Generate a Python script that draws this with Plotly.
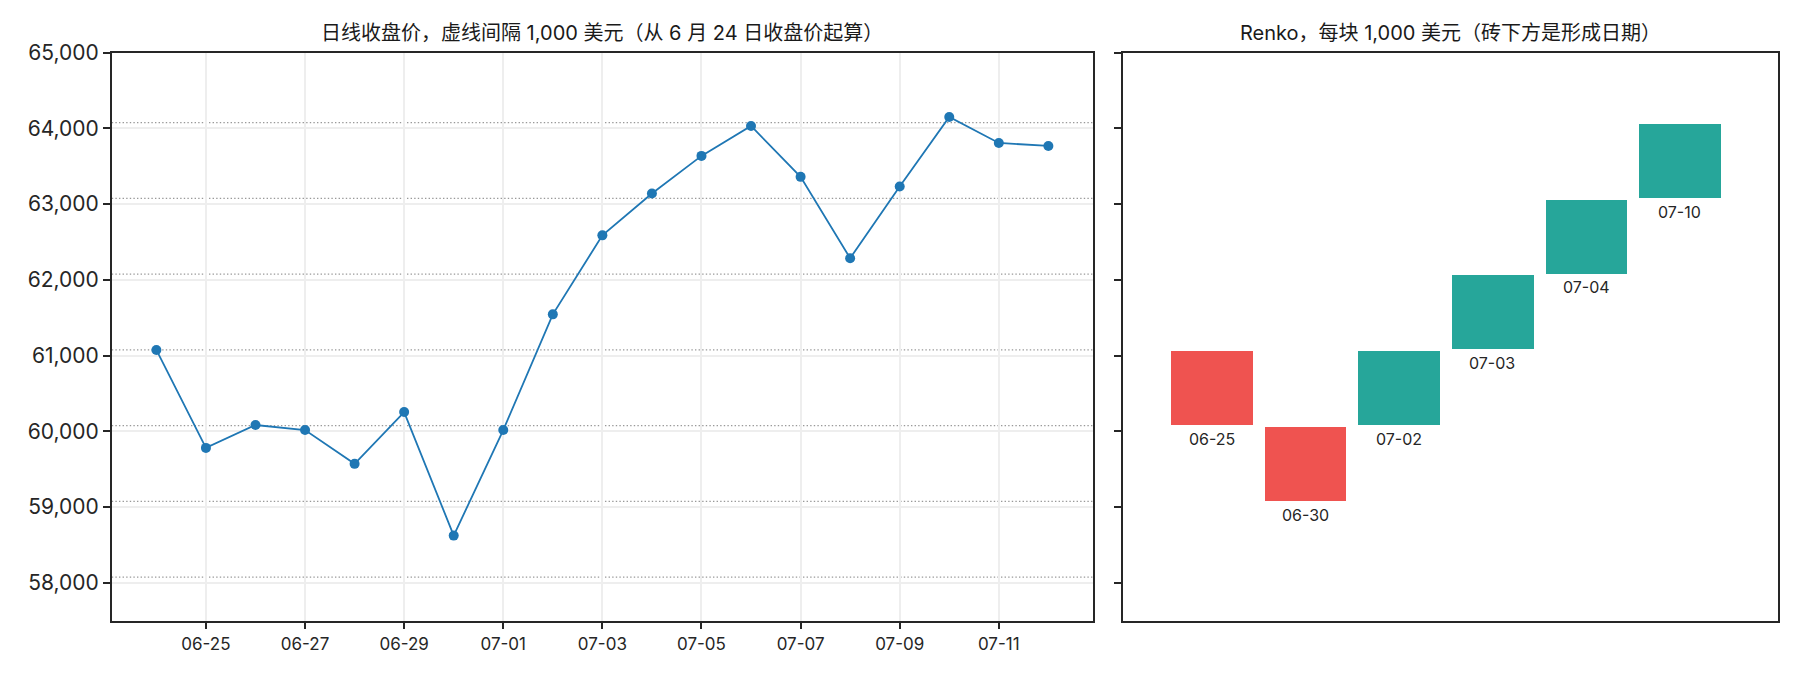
import plotly.graph_objects as go

# daily closes
dates = [
    "2024-06-24", "2024-06-25", "2024-06-26", "2024-06-27", "2024-06-28",
    "2024-06-29", "2024-06-30", "2024-07-01", "2024-07-02", "2024-07-03",
    "2024-07-04", "2024-07-05", "2024-07-06", "2024-07-07", "2024-07-08",
    "2024-07-09", "2024-07-10", "2024-07-11", "2024-07-12",
]
closes = [
    61075, 59782, 60084, 60018, 59571, 60255, 58624, 60018, 61545, 62588,
    63141, 63637, 64032, 63360, 62286, 63233, 64150, 63808, 63768,
]

# dotted reference levels (1,000 apart, anchored at the 06-24 close)
levels = [58075, 59075, 60075, 61075, 62075, 63075, 64075]

# renko bricks
brick_dates = ["06-25", "06-30", "07-02", "07-03", "07-04", "07-10"]
brick_lows = [60075, 59075, 60075, 61075, 62075, 63075]
brick_up = [False, False, True, True, True, True]
brick_size = 1000

y_ticks = [58000, 59000, 60000, 61000, 62000, 63000, 64000, 65000]

FONT = "Inter, Noto Sans CJK SC, sans-serif"
INK = "#262626"
UP, DOWN = "#26A69A", "#EF5350"

fig = go.Figure()

fig.add_trace(go.Scatter(
    x=dates, y=closes, mode="lines+markers",
    line=dict(color="#1f77b4", width=1.8),
    marker=dict(color="#1f77b4", size=10),
    xaxis="x", yaxis="y", showlegend=False,
))

pad = 12
idx = list(range(len(brick_lows)))
fig.add_trace(go.Bar(
    x=idx,
    y=[brick_size - 2 * pad] * len(brick_lows),
    base=[lo + pad for lo in brick_lows],
    width=0.87,
    marker=dict(color=[UP if u else DOWN for u in brick_up], line=dict(width=0)),
    xaxis="x2", yaxis="y2", showlegend=False, hoverinfo="skip",
))

# date label under each brick
for i, (lbl, lo) in enumerate(zip(brick_dates, brick_lows)):
    fig.add_annotation(
        x=i, y=lo + pad, xref="x2", yref="y2", text=lbl, showarrow=False,
        xanchor="center", yanchor="middle", yshift=-14,
        font=dict(size=16, color=INK, family=FONT),
    )

for lv in levels:
    fig.add_shape(
        type="line", xref="x domain", yref="y", x0=0, x1=1, y0=lv, y1=lv,
        line=dict(color="#999999", width=1.3, dash="1.4px,2.2px"), layer="below",
    )

frame = dict(showline=True, mirror=True, linecolor=INK, linewidth=1.5,
             zeroline=False, automargin=False)
ticks_out = dict(ticks="outside", ticklen=7, tickwidth=1.5, tickcolor=INK)

fig.update_layout(
    width=1800, height=675,
    margin=dict(l=0, r=0, t=0, b=0, pad=0),
    paper_bgcolor="white", plot_bgcolor="white",
    font=dict(family=FONT, color=INK),
    bargap=0,
    xaxis=dict(
        domain=[0.0621, 0.6072], anchor="y", type="date",
        range=["2024-06-23 02:24", "2024-07-12 21:36"],
        tick0="2024-06-25", dtick=2 * 86400000, tickformat="%m-%d",
        showgrid=True, gridcolor="#eeeeee", gridwidth=1.5,
        tickfont=dict(size=17, family=FONT, color=INK),
        **frame, **ticks_out,
    ),
    yaxis=dict(
        domain=[0.0804, 0.922], anchor="x",
        range=[57500, 65000], tickvals=y_ticks, tickformat=",",
        showgrid=True, gridcolor="#eeeeee", gridwidth=1.5,
        tickfont=dict(size=21, family=FONT, color=INK),
        **frame, **ticks_out,
    ),
    xaxis2=dict(
        domain=[0.6237, 0.9878], anchor="y2",
        range=[-0.95, 6.05], showticklabels=False, ticks="",
        showgrid=False, **frame,
    ),
    yaxis2=dict(
        domain=[0.0804, 0.922], anchor="x2", matches="y",
        range=[57500, 65000], tickvals=y_ticks, showticklabels=False,
        showgrid=False, **frame, **ticks_out,
    ),
)

fig.add_annotation(
    text="日线收盘价，虚线间隔 1,000 美元（从 6 月 24 日收盘价起算）",
    xref="paper", yref="paper", x=(0.0621 + 0.6072) / 2, y=0.922,
    yshift=20, xanchor="center", yanchor="middle", showarrow=False,
    font=dict(size=20, family=FONT, color="#1a1a1a"),
)
fig.add_annotation(
    text="Renko，每块 1,000 美元（砖下方是形成日期）",
    xref="paper", yref="paper", x=(0.6237 + 0.9878) / 2, y=0.922,
    yshift=20, xanchor="center", yanchor="middle", showarrow=False,
    font=dict(size=20, family=FONT, color="#1a1a1a"),
)

fig.write_html(
    "out.html",
    config={"displayModeBar": False},
    post_script="document.body.style.margin='0';document.body.style.overflow='hidden';",
)
